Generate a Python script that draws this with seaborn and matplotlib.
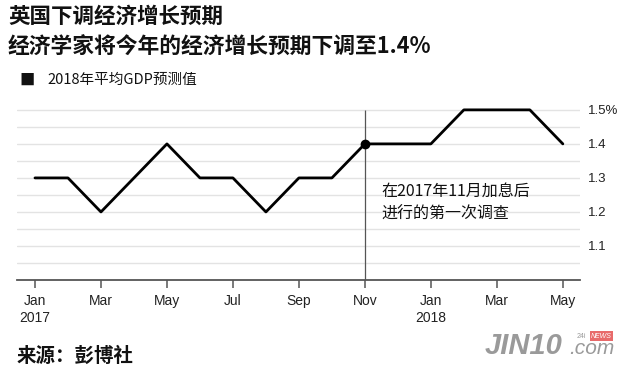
import matplotlib
matplotlib.use("Agg")
import matplotlib.pyplot as plt
import seaborn as sns
import pandas as pd

months = ["2017-01", "2017-02", "2017-03", "2017-04", "2017-05", "2017-06",
          "2017-07", "2017-08", "2017-09", "2017-10", "2017-11", "2017-12",
          "2018-01", "2018-02", "2018-03", "2018-04", "2018-05"]
gdp_forecast = [1.3, 1.3, 1.2, 1.3, 1.4, 1.3, 1.3, 1.2, 1.3, 1.3, 1.4, 1.4,
                1.4, 1.5, 1.5, 1.5, 1.4]
xtick_labels = ["Jan\n2017", "Mar", "May", "Jul", "Sep", "Nov", "Jan\n2018", "Mar", "May"]
ytick_values = [1.1, 1.2, 1.3, 1.4, 1.5]
ytick_labels = ["1.1", "1.2", "1.3", "1.4", "1.5%"]
highlight_month = "2017-11"

sns.set_theme(style="white")
plt.rcParams['font.family'] = ['Noto Sans CJK SC', 'DejaVu Sans']

df = pd.DataFrame({"month": months, "value": gdp_forecast})
df["idx"] = range(len(df))

fig = plt.figure(figsize=(6.4, 3.78), dpi=100)
W, H = 640, 378
ax = fig.add_axes([17 / W, 1 - 280 / H, (580 - 17) / W, (280 - 100) / H])

# gridlines
for v in [1.05 + 0.05 * i for i in range(10)]:
    ax.axhline(v, color="#e3e3e3", lw=1.0, zorder=0)

hi = months.index(highlight_month)
ax.vlines(hi, 1.0, max(gdp_forecast), color="#555555", lw=0.9, zorder=1)

sns.lineplot(data=df, x="idx", y="value", ax=ax, color="black", lw=2.0, zorder=3)
ax.plot(hi, gdp_forecast[hi], "o", color="black", ms=6, zorder=4)

ax.set_xlim(-0.545, 16.52)
ax.set_ylim(1.0, 1.529)
ax.set_xticks(list(range(0, len(months), 2)))
ax.set_xticklabels(xtick_labels, fontsize=10, color="#222222",
                   family=["Liberation Sans", "DejaVu Sans"], linespacing=1.3)
ax.yaxis.tick_right()
ax.set_yticks(ytick_values)
ax.set_yticklabels(ytick_labels, fontsize=9.5, color="#222222",
                   family=["Liberation Sans", "DejaVu Sans"])
ax.tick_params(axis="y", length=0, pad=6)
ax.tick_params(axis="x", length=6, width=1.1, color="#555555", pad=4, bottom=True)
ax.set_xlabel("")
ax.set_ylabel("")
for s in ["top", "left", "right"]:
    ax.spines[s].set_visible(False)
ax.spines["bottom"].set_color("#555555")
ax.spines["bottom"].set_linewidth(1.3)

ax.text(hi + 0.5, 1.226, "在2017年11月加息后\n进行的第一次调查", fontsize=11.5,
        fontweight="medium", color="#111111", va="center", ha="left", linespacing=1.45)

# titles
fig.text(8 / W, 1 - 16 / H, "英国下调经济增长预期", fontsize=15.5, fontweight="bold",
         color="#111111", va="center", ha="left")
fig.text(8 / W, 1 - 47 / H, "经济学家将今年的经济增长预期下调至1.4%", fontsize=15.7,
         fontweight="bold", color="#111111", va="center", ha="left")
fig.text(19 / W, 1 - 80 / H, "■", fontsize=11, color="#111111", va="center", ha="left")
fig.text(47 / W, 1 - 80 / H, "2018年平均GDP预测值", fontsize=10.5, fontweight="medium",
         color="#111111", va="center", ha="left")
fig.text(17 / W, 1 - 356 / H, "来源：彭博社", fontsize=14, fontweight="bold",
         color="#111111", va="center", ha="left")

# watermark
fig.text(485 / W, 1 - 346 / H, "JIN10", fontsize=21, fontweight="bold", style="italic",
         color="#9a9a9a", va="center", ha="left", family=["Liberation Sans"])
fig.text(569 / W, 1 - 349 / H, ".com", fontsize=15, style="italic",
         color="#9a9a9a", va="center", ha="left", family=["Liberation Sans"])
fig.text(577 / W, 1 - 336 / H, "24i", fontsize=5, color="#9a9a9a",
         va="center", ha="left", family=["Liberation Sans"])
fig.text(591 / W, 1 - 336 / H, "NEWS", fontsize=5, style="italic", color="white",
         va="center", ha="left", family=["Liberation Sans"],
         bbox=dict(boxstyle="square,pad=0.15", fc="#e86a6a", ec="none"))

fig.savefig("out.png", dpi=100)
